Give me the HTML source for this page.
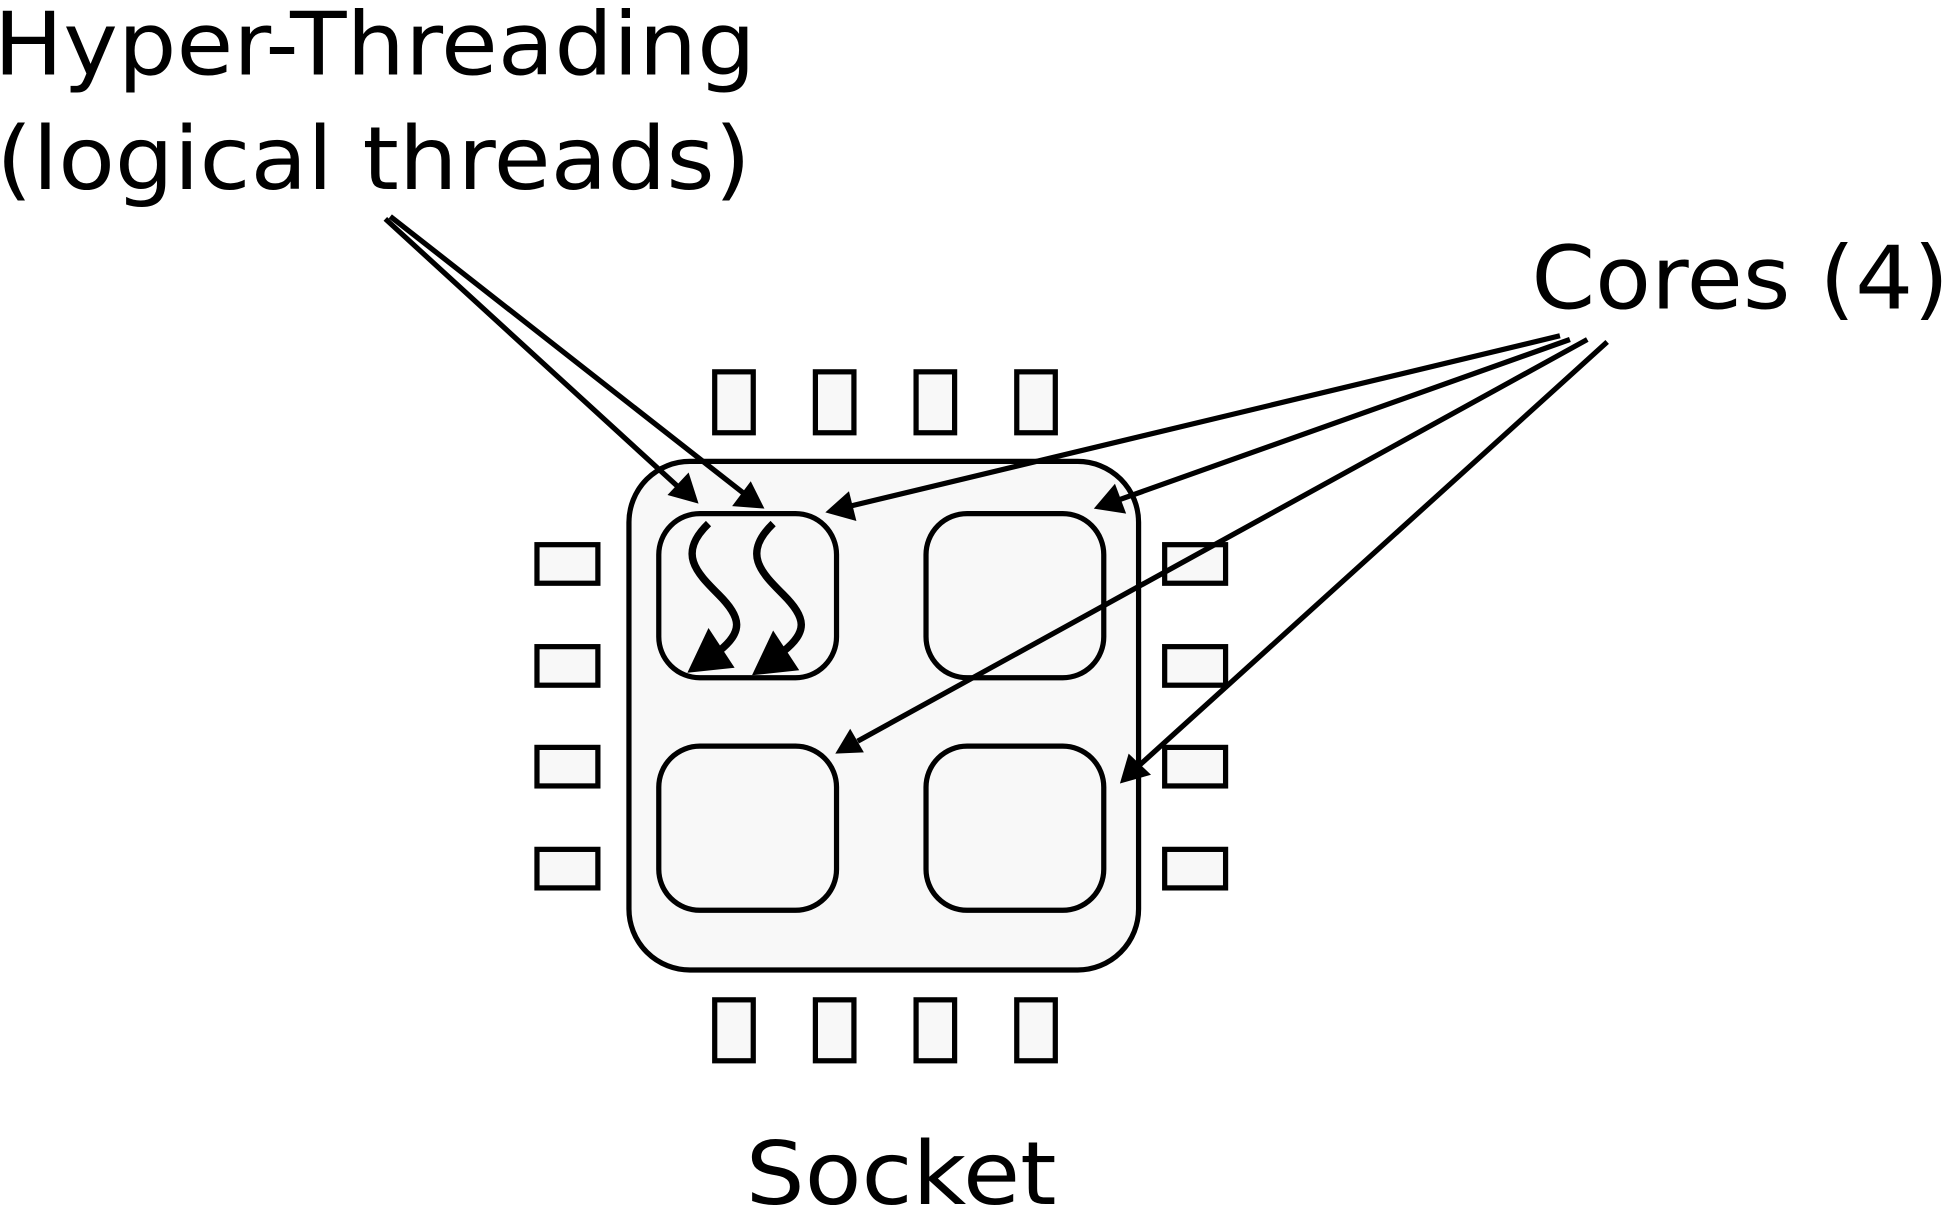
<!DOCTYPE html>
<html><head><style>html,body{margin:0;padding:0;background:#fff;overflow:hidden}</style></head>
<body>
<svg width="1949" height="1210" viewBox="0 0 1568 973" preserveAspectRatio="none" xmlns="http://www.w3.org/2000/svg">
<g fill="#f8f8f8" stroke="#000" stroke-width="4.2">
<rect x="506" y="371" width="410" height="409" rx="49"/>
<rect x="530" y="413" width="143" height="132" rx="33"/>
<rect x="745" y="413" width="143" height="132" rx="33"/>
<rect x="530" y="600" width="143" height="132" rx="33"/>
<rect x="745" y="600" width="143" height="132" rx="33"/>
<rect x="575" y="299" width="31" height="49"/><rect x="656" y="299" width="31" height="49"/><rect x="737" y="299" width="31" height="49"/><rect x="818" y="299" width="31" height="49"/>
<rect x="575" y="804" width="31" height="49"/><rect x="656" y="804" width="31" height="49"/><rect x="737" y="804" width="31" height="49"/><rect x="818" y="804" width="31" height="49"/>
<rect x="432" y="438" width="49" height="31"/><rect x="432" y="520" width="49" height="31"/><rect x="432" y="601" width="49" height="31"/><rect x="432" y="683" width="49" height="31"/>
<rect x="937" y="438" width="49" height="31"/><rect x="937" y="520" width="49" height="31"/><rect x="937" y="601" width="49" height="31"/><rect x="937" y="683" width="49" height="31"/>
</g>
<g stroke="#000" stroke-width="4.2" fill="none">
<line x1="310" y1="176" x2="545" y2="391"/>
<line x1="314" y1="174" x2="600" y2="398"/>
<line x1="1255" y1="270" x2="684" y2="407"/>
<line x1="1263" y1="273" x2="900" y2="402"/>
<line x1="1277" y1="273" x2="690" y2="596"/>
<line x1="1293" y1="275" x2="916" y2="616"/>
<path d="M570,421 C545,445 560,460 578,478 C597,497 598,508 578,524" stroke-width="6"/>
<path d="M622,421 C597,445 612,460 630,478 C649,497 650,508 630,524" stroke-width="6"/>
</g>
<g fill="#000">
<polygon points="562,405 537,398 554,380"/>
<polygon points="615,409 589,407 604,387"/>
<polygon points="664,412 683,395 689,419"/>
<polygon points="880,409 897,389 906,413"/>
<polygon points="672,606 684,586 695,605"/>
<polygon points="901,630 908,606 926,623"/>
<polygon points="553,541 570,505 591,537"/>
<polygon points="605,543 622,507 643,539"/>
</g>
<g font-family="'DejaVu Sans','Liberation Sans',sans-serif" font-size="70" fill="#000">
<text x="-5" y="60" textLength="613" lengthAdjust="spacingAndGlyphs">Hyper-Threading</text>
<text x="-3" y="152" textLength="607" lengthAdjust="spacingAndGlyphs">(logical threads)</text>
<text x="1232" y="248" textLength="336" lengthAdjust="spacingAndGlyphs">Cores (4)</text>
<text x="600" y="968" textLength="250" lengthAdjust="spacingAndGlyphs">Socket</text>
</g>
</svg>
</body></html>
